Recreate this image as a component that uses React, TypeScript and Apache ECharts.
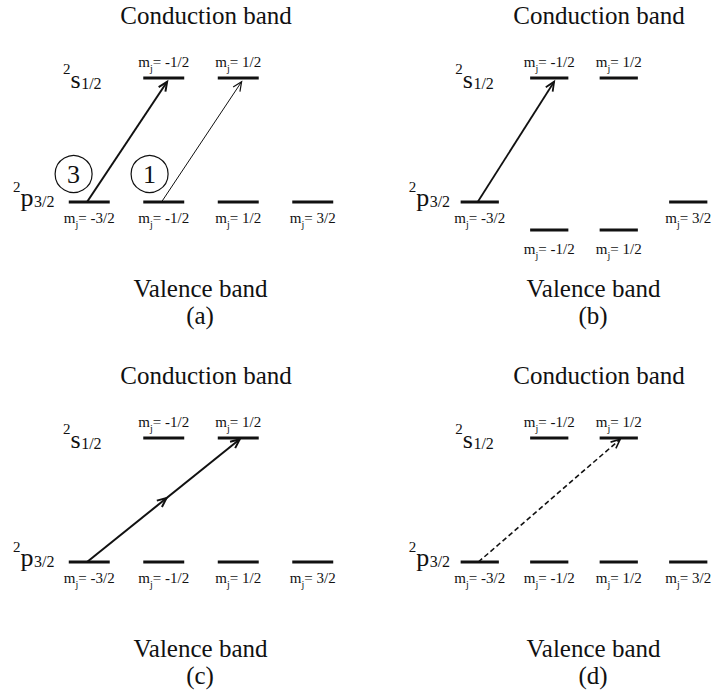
import React, { useEffect, useRef } from 'react';
import * as echarts from 'echarts';

// ---------- data ----------
const panelLetters = ['(a)', '(b)', '(c)', '(d)'];
const bandTitles = ['Conduction band', 'Valence band'];

// sublevels: mj value, label and energy (p3/2 = 0, s1/2 = 1)
const levelMj = [-0.5, 0.5, -1.5, -0.5, 0.5, 1.5];
const levelMjLabels = ['-1/2', '1/2', '-3/2', '-1/2', '1/2', '3/2'];
const energiesA = [1, 1, 0, 0, 0, 0];
const energiesB = [1, 1, 0, -0.226, -0.226, 0];
const energiesC = [1, 1, 0, 0, 0, 0];
const energiesD = [1, 1, 0, 0, 0, 0];
const panelEnergies = [energiesA, energiesB, energiesC, energiesD];

// transitions: [fromMj, fromE, toMj, toE]
const transitionsA = [[-1.53, 0, -0.455, 0.97], [-0.53, 0, 0.545, 0.97]];
const transitionsB = [[-1.53, 0, -0.43, 0.97]];
const transitionsC = [[-1.53, 0, 0.52, 0.99]];
const transitionsD = [[-1.52, 0, 0.52, 0.99]];
const panelTransitions = [transitionsA, transitionsB, transitionsC, transitionsD];

// circled relative strengths (panel a)
const circledNumbers = ['3', '1'];
const circledMj = [-1.71, -0.69];
const circledEnergy = [0.226, 0.226];

// term symbols
const termSup = ['2', '2'];
const termMain = ['s', 'p'];
const termSub = ['1/2', '3/2'];
const termMj = [-1.852, -2.523];
const termEnergy = [1, 0];

// ---------- styles / layout ----------
const FONT = 'Liberation Serif';
const INK = '#111111';
const PANEL_DX = [0, 393, 0, 393];
const PANEL_DY = [0, 0, 360, 360];
const GRID = { left: 52, top: 16, width: 298, height: 248 };
const LEVEL_HALF = 0.275;
const transitionStyles = [
  [{ w: 2, dash: null, mid: false }, { w: 1, dash: null, mid: false }],
  [{ w: 1.8, dash: null, mid: false }],
  [{ w: 2, dash: null, mid: true }],
  [{ w: 1.6, dash: [5, 3], mid: false }],
];
const CENTRAL = 0.3375; // central baseline offset (em) for Liberation Serif
const mid = (baseline: number, fs: number) => baseline - CENTRAL * fs;
const fnt = (fs: number) => ({ fontSize: fs, fontFamily: FONT });

function headPts(tip: number[], ux: number, uy: number, len: number, ang: number) {
  const bx = -ux, by = -uy;
  const c = Math.cos(ang), s = Math.sin(ang);
  const p1 = [tip[0] + len * (bx * c - by * s), tip[1] + len * (bx * s + by * c)];
  const p2 = [tip[0] + len * (bx * c + by * s), tip[1] + len * (-bx * s + by * c)];
  return [p1, tip, p2];
}

function buildOption() {
  const grids: any[] = [];
  const xAxes: any[] = [];
  const yAxes: any[] = [];
  const series: any[] = [];
  const graphics: any[] = [];

  for (let p = 0; p < 4; p++) {
    grids.push({
      left: GRID.left + PANEL_DX[p],
      top: GRID.top + PANEL_DY[p],
      width: GRID.width,
      height: GRID.height,
    });
    xAxes.push({ type: 'value', gridIndex: p, min: -2, max: 2, show: false });
    yAxes.push({ type: 'value', gridIndex: p, min: -0.5, max: 1.5, show: false });

    const energies = panelEnergies[p];
    series.push({
      type: 'custom',
      name: 'levels-' + p,
      xAxisIndex: p,
      yAxisIndex: p,
      clip: false,
      silent: true,
      data: levelMj.map((m, i) => [m, energies[i], i]),
      renderItem: (params: any, api: any) => {
        const m = api.value(0);
        const e = api.value(1);
        const i = api.value(2);
        const a = api.coord([m - LEVEL_HALF, e]);
        const b = api.coord([m + LEVEL_HALF, e]);
        const cx = (a[0] + b[0]) / 2;
        const above = e > 0.5;
        const off = above ? -16 : e < 0 ? 19 : 16;
        return {
          type: 'group',
          children: [
            {
              type: 'line',
              shape: { x1: a[0], y1: a[1], x2: b[0], y2: b[1] },
              style: { stroke: INK, lineWidth: 3 },
            },
            {
              type: 'text',
              x: cx,
              y: a[1] + off,
              style: {
                text: `{m|m}{j|j}{t|= ${levelMjLabels[i]}}`,
                ...fnt(15),
                fill: INK,
                align: 'center',
                verticalAlign: 'middle',
                rich: {
                  m: { ...fnt(15), fill: INK, lineHeight: 22 },
                  j: { ...fnt(10), fill: INK, verticalAlign: 'bottom' },
                  t: { ...fnt(15), fill: INK, lineHeight: 22 },
                },
              },
            },
          ],
        };
      },
    });

    const styles = transitionStyles[p];
    series.push({
      type: 'custom',
      name: 'transitions-' + p,
      xAxisIndex: p,
      yAxisIndex: p,
      clip: false,
      silent: true,
      data: panelTransitions[p],
      renderItem: (params: any, api: any) => {
        const st = styles[params.dataIndex];
        const s0 = api.coord([api.value(0), api.value(1)]);
        const s1 = api.coord([api.value(2), api.value(3)]);
        const dx = s1[0] - s0[0], dy = s1[1] - s0[1];
        const L = Math.hypot(dx, dy);
        const ux = dx / L, uy = dy / L;
        const stroke: any = { stroke: INK, lineWidth: st.w, fill: null };
        const children: any[] = [
          {
            type: 'line',
            shape: { x1: s0[0], y1: s0[1], x2: s1[0], y2: s1[1] },
            style: st.dash ? { ...stroke, lineDash: st.dash } : stroke,
          },
          {
            type: 'polyline',
            shape: { points: headPts(s1, ux, uy, 10, 0.42) },
            style: { ...stroke, lineWidth: Math.max(st.w, 1.2) },
          },
        ];
        if (st.mid) {
          const mp = [(s0[0] + s1[0]) / 2 + ux * 4, (s0[1] + s1[1]) / 2 + uy * 4];
          children.push({
            type: 'polyline',
            shape: { points: headPts(mp, ux, uy, 10, 0.42) },
            style: stroke,
          });
        }
        return { type: 'group', children };
      },
    });

    series.push({
      type: 'custom',
      name: 'terms-' + p,
      xAxisIndex: p,
      yAxisIndex: p,
      clip: false,
      silent: true,
      data: termMj.map((m, i) => [m, termEnergy[i], i]),
      renderItem: (params: any, api: any) => {
        const i = api.value(2);
        const pt = api.coord([api.value(0), api.value(1)]);
        const base = pt[1] + (i === 0 ? 10 : 4);
        const supFs = 15, mainFs = 26, subFs = 16;
        const x0 = pt[0];
        const x1 = x0 + 0.5 * supFs;
        const x2 = x1 + (i === 0 ? 0.389 : 0.5) * mainFs + 0.5;
        const txt = (t: string, x: number, b: number, fs: number) => ({
          type: 'text',
          x,
          y: mid(b, fs),
          style: { text: t, ...fnt(fs), fill: INK, align: 'left', verticalAlign: 'middle' },
        });
        return {
          type: 'group',
          children: [
            txt(termSup[i], x0, base - 14, supFs),
            txt(termMain[i], x1, base, mainFs),
            txt(termSub[i], x2, base + 1, subFs),
          ],
        };
      },
    });

    if (p === 0) {
      series.push({
        type: 'custom',
        name: 'circled',
        xAxisIndex: p,
        yAxisIndex: p,
        clip: false,
        silent: true,
        data: circledMj.map((m, i) => [m, circledEnergy[i], i]),
        renderItem: (params: any, api: any) => {
          const i = api.value(2);
          const c = api.coord([api.value(0), api.value(1)]);
          return {
            type: 'group',
            children: [
              {
                type: 'circle',
                shape: { cx: c[0], cy: c[1], r: 18.5 },
                style: { stroke: INK, lineWidth: 1.2, fill: 'none' },
              },
              {
                type: 'text',
                x: c[0],
                y: c[1] + 1,
                style: {
                  text: circledNumbers[i],
                  ...fnt(26),
                  fill: INK,
                  align: 'center',
                  verticalAlign: 'middle',
                },
              },
            ],
          };
        },
      });
    }

    const dx = PANEL_DX[p], dy = PANEL_DY[p];
    const title = (t: string, x: number, b: number, fs: number) => ({
      type: 'text',
      x,
      y: mid(b, fs),
      silent: true,
      style: { text: t, ...fnt(fs), fill: INK, align: 'center', verticalAlign: 'middle' },
    });
    graphics.push(title(bandTitles[0], 206 + dx, 24 + dy, 25));
    graphics.push(title(bandTitles[1], 200.5 + dx, 297 + dy, 25));
    graphics.push(title(panelLetters[p], 200 + dx, 324 + dy, 25));
  }

  return {
    animation: false,
    backgroundColor: '#ffffff',
    grid: grids,
    xAxis: xAxes,
    yAxis: yAxes,
    series,
    graphic: graphics,
  };
}

export default function App() {
  const ref = useRef<HTMLDivElement>(null);
  useEffect(() => {
    document.body.style.margin = '0';
    if (!ref.current) return;
    const chart = echarts.init(ref.current, undefined, { renderer: 'svg' });
    chart.setOption(buildOption() as any);
    return () => chart.dispose();
  }, []);
  return <div ref={ref} style={{ width: 723, height: 695 }} />;
}
